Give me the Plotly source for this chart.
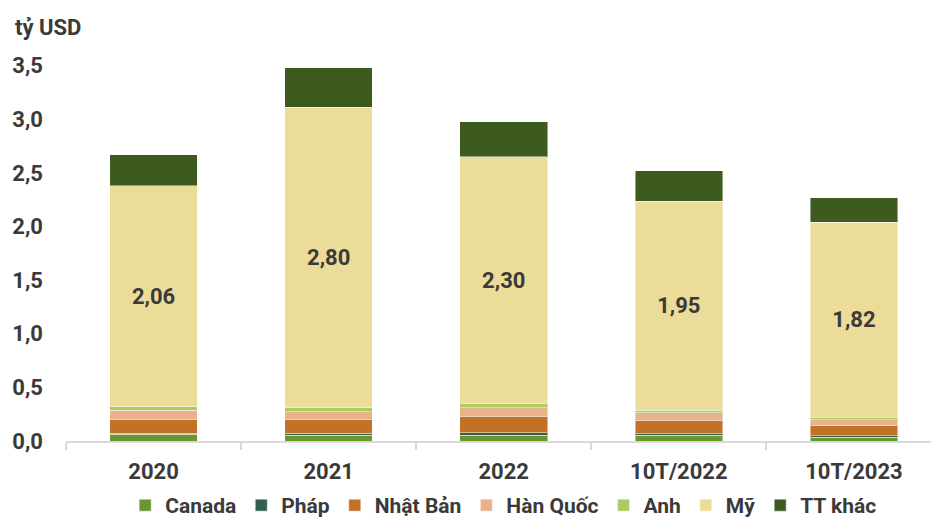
import plotly.graph_objects as go

categories = ["2020", "2021", "2022", "10T/2022", "10T/2023"]
canada = [0.062, 0.056, 0.053, 0.056, 0.034]
phap = [0.012, 0.016, 0.025, 0.012, 0.016]
nhat_ban = [0.127, 0.124, 0.155, 0.127, 0.090]
han_quoc = [0.084, 0.078, 0.078, 0.068, 0.059]
anh = [0.035, 0.040, 0.040, 0.022, 0.022]
my = [2.06, 2.80, 2.30, 1.95, 1.82]
tt_khac = [0.29, 0.366, 0.326, 0.284, 0.226]
my_labels = ["2,06", "2,80", "2,30", "1,95", "1,82"]

series = [
    ("Canada", canada, "#6a9632"),
    ("Pháp", phap, "#33604d"),
    ("Nhật Bản", nhat_ban, "#c37126"),
    ("Hàn Quốc", han_quoc, "#e8b28a"),
    ("Anh", anh, "#a9cd62"),
    ("Mỹ", my, "#ecdc99"),
    ("TT khác", tt_khac, "#3d5a1f"),
]

FONT = "Roboto"
TXT = "#3a3a3a"

fig = go.Figure()
for name, vals, color in series:
    kw = {}
    if name == "Mỹ":
        kw = dict(text=my_labels, textposition="inside", insidetextanchor="middle",
                  textfont=dict(family=FONT, size=22, color=TXT, weight="bold"),
                  textangle=0)
    fig.add_trace(go.Bar(
        x=categories, y=vals, name=name, width=0.5,
        marker=dict(color=color, line=dict(color="rgba(255,255,255,0.45)", width=1)),
        hoverinfo="skip", **kw))

fig.update_layout(
    barmode="stack",
    width=931, height=519,
    margin=dict(l=66, r=0, t=55, b=78, autoexpand=False),
    plot_bgcolor="white", paper_bgcolor="white",
    separators=",.",
    font=dict(family=FONT, size=22, color=TXT, weight="bold"),
    showlegend=True,
    legend=dict(orientation="h", x=0.506, xanchor="center", y=-0.114, yanchor="top",
                font=dict(family=FONT, size=21, color=TXT, weight="bold"),
                traceorder="normal", itemwidth=30),
    xaxis=dict(type="category", range=[-0.5, 4.44], showline=True, linecolor="#d9d9d9",
               linewidth=2, ticks="outside", tickson="boundaries", ticklen=7,
               tickwidth=2, tickcolor="#d9d9d9", showgrid=False,
               ticklabelstandoff=10,
               tickfont=dict(family=FONT, size=22, color=TXT, weight="bold")),
    yaxis=dict(range=[0, 3.6], tickvals=[0, 0.5, 1, 1.5, 2, 2.5, 3, 3.5],
               tickformat=".1f", showgrid=False, zeroline=False, showline=False,
               ticklabelstandoff=22,
               tickfont=dict(family=FONT, size=22, color=TXT, weight="bold")),
    annotations=[dict(text="tỷ USD", xref="paper", yref="paper", x=-0.0613, y=1.0718,
                      xanchor="left", yanchor="middle", showarrow=False,
                      font=dict(family=FONT, size=22, color=TXT, weight="bold"))],
)

fig.write_html("out.html", config={"displayModeBar": False},
               post_script="document.body.style.margin='0';document.body.style.overflow='hidden';")
